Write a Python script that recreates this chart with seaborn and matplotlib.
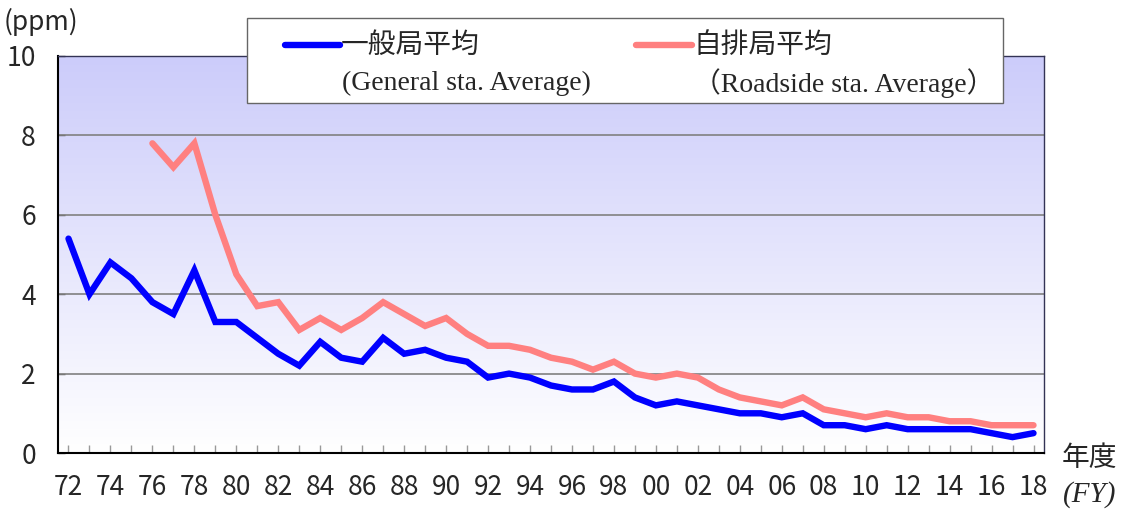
import numpy as np
import pandas as pd
import matplotlib
matplotlib.use("Agg")
import matplotlib.pyplot as plt
from matplotlib.lines import Line2D
from matplotlib.patches import Rectangle
from matplotlib.colors import LinearSegmentedColormap
import seaborn as sns

# Fiscal years and annual mean concentrations (ppm)
years_general = list(range(1972, 2019))
general_avg = [5.4, 4.0, 4.8, 4.4, 3.8, 3.5, 4.6, 3.3, 3.3, 2.9,
               2.5, 2.2, 2.8, 2.4, 2.3, 2.9, 2.5, 2.6, 2.4, 2.3,
               1.9, 2.0, 1.9, 1.7, 1.6, 1.6, 1.8, 1.4, 1.2, 1.3,
               1.2, 1.1, 1.0, 1.0, 0.9, 1.0, 0.7, 0.7, 0.6, 0.7,
               0.6, 0.6, 0.6, 0.6, 0.5, 0.4, 0.5]
years_roadside = list(range(1976, 2019))
roadside_avg = [7.8, 7.2, 7.8, 6.0, 4.5, 3.7,
                3.8, 3.1, 3.4, 3.1, 3.4, 3.8, 3.5, 3.2, 3.4, 3.0,
                2.7, 2.7, 2.6, 2.4, 2.3, 2.1, 2.3, 2.0, 1.9, 2.0,
                1.9, 1.6, 1.4, 1.3, 1.2, 1.4, 1.1, 1.0, 0.9, 1.0,
                0.9, 0.9, 0.8, 0.8, 0.7, 0.7, 0.7]

series_names = ["一般局平均", "自排局平均"]
series_names_en = ["(General sta. Average)", "（Roadside sta. Average）"]
series_colors = ["#0000ff", "#ff8080"]
y_ticks = [0, 2, 4, 6, 8, 10]
x_ticks = list(range(1972, 2019, 2))
x_ticklabels = [f"{y % 100:02d}" for y in x_ticks]

df = pd.concat([
    pd.DataFrame({"year": years_general, "ppm": general_avg, "series": series_names[0]}),
    pd.DataFrame({"year": years_roadside, "ppm": roadside_avg, "series": series_names[1]}),
])

sns.set_style("white")
sans = ["Noto Sans CJK JP", "DejaVu Sans"]
serif = ["Liberation Serif", "Noto Sans CJK JP"]
plt.rcParams["font.family"] = sans

W, H = 1125, 509
fig = plt.figure(figsize=(W / 100, H / 100), dpi=100)
ax_l, ax_t, ax_r, ax_b = 58, 56, 1044, 453
ax = fig.add_axes([ax_l / W, 1 - ax_b / H, (ax_r - ax_l) / W, (ax_b - ax_t) / H])

# Vertical lavender-to-white gradient behind the plot
cmap = LinearSegmentedColormap.from_list("bg", ["#ffffff", "#ccccfa"])
grad = np.linspace(0, 1, 256).reshape(-1, 1)
ax.imshow(grad, cmap=cmap, aspect="auto", origin="lower",
          extent=[1971.5, 2018.5, 0, 10], zorder=0)

sns.lineplot(data=df, x="year", y="ppm", hue="series", hue_order=series_names,
             palette=series_colors, linewidth=4.6, legend=False, ax=ax,
             zorder=3)
for ln in ax.lines:
    ln.set_solid_capstyle("round")
    ln.set_solid_joinstyle("miter")

ax.set_xlim(1971.5, 2018.5)
ax.set_ylim(0, 10)
ax.set_xlabel("")
ax.set_ylabel("")

for yv in [2, 4, 6, 8]:
    ax.axhline(yv, color="#808080", linewidth=1.2, zorder=1)

ax.set_yticks(y_ticks)
ax.set_yticklabels([str(v) for v in y_ticks], fontsize=19)
ax.set_xticks(x_ticks)
ax.set_xticklabels(x_ticklabels, fontsize=19)
ax.set_xticks(list(range(1972, 2019)), minor=True)
ax.tick_params(axis="y", which="major", direction="in", length=5, width=1,
               color="#555555", pad=16, left=True)
ax.tick_params(axis="x", which="both", direction="in", length=6, width=1,
               color="#999999", pad=15, bottom=True)

for side in ["left", "bottom"]:
    ax.spines[side].set_color("black")
    ax.spines[side].set_linewidth(1.5)
for side in ["top", "right"]:
    ax.spines[side].set_color("#333355")
    ax.spines[side].set_linewidth(1.0)


def fx(px):
    return px / W


def fy(py):
    return 1 - py / H


# Unit label and axis title
fig.text(fx(4), fy(22), "(ppm)", fontsize=19, ha="left", va="center")
fig.text(fx(1062), fy(458), "年度", fontsize=20, ha="left", va="center")
fig.text(fx(1063), fy(495), "(FY)", fontsize=21, ha="left", va="center",
         family=serif, style="italic")

# Legend panel
fig.add_artist(Rectangle((fx(247), fy(103)), fx(1003) - fx(247), fy(18) - fy(103),
                         transform=fig.transFigure, facecolor="white",
                         edgecolor="#666666", linewidth=1.0, zorder=10))
entries = [(285, 340, 342), (636, 692, 693)]
for (x0, x1, xt), name, name_en, col in zip(entries, series_names,
                                            series_names_en, series_colors):
    fig.add_artist(Line2D([fx(x0), fx(x1)], [fy(45), fy(45)],
                          transform=fig.transFigure, color=col, linewidth=4.6,
                          solid_capstyle="round", zorder=11))
    fig.text(fx(x1 + 1), fy(45), name, fontsize=20, ha="left", va="center",
             zorder=12)
    fig.text(fx(xt), fy(83), name_en, fontsize=20, ha="left", va="center",
             family=serif, zorder=12)

fig.savefig("out.png", dpi=100)
